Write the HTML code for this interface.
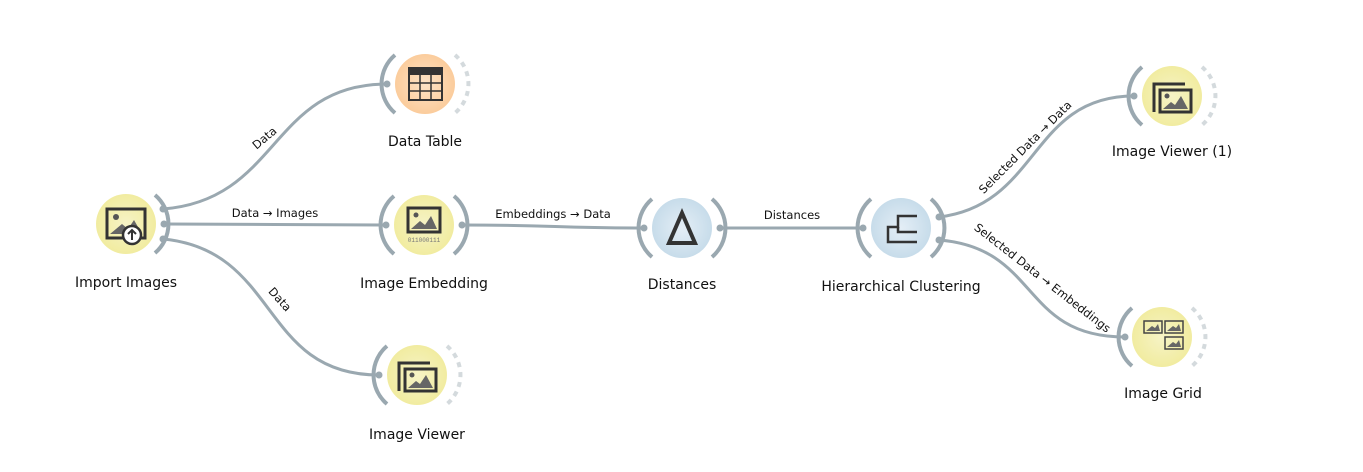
<!DOCTYPE html>
<html><head><meta charset="utf-8"><style>
html,body{margin:0;padding:0;background:#fff;width:1363px;height:472px;overflow:hidden}
svg{display:block}
.lbl{font-family:"DejaVu Sans","Liberation Sans",sans-serif;font-size:14px;fill:#111;text-anchor:middle}
.ll{font-family:"DejaVu Sans","Liberation Sans",sans-serif;font-size:11.5px;fill:#111;text-anchor:middle}
.link{fill:none;stroke:#9aa8b0;stroke-width:3}
.br{fill:none;stroke:#9aa8b0;stroke-width:4}
.dash{fill:none;stroke:#d4dadd;stroke-width:4;stroke-dasharray:5 5}
.anc{fill:#9aa8b0}
.ic{fill:none;stroke:#333;stroke-width:3}
</style></head><body>
<svg width="1363" height="472">
<defs>
<radialGradient id="gy"><stop offset="0" stop-color="#f6f3c6"/><stop offset="1" stop-color="#f1eca0"/></radialGradient>
<radialGradient id="go"><stop offset="0" stop-color="#fde3c6"/><stop offset="1" stop-color="#fbcc9c"/></radialGradient>
<radialGradient id="gb"><stop offset="0" stop-color="#e4eef6"/><stop offset="1" stop-color="#c7dcea"/></radialGradient>
</defs>
<g>
<path class="link" d="M163,209 C280,200 270,84 387,84"/>
<path class="link" d="M164,224 C280,224 270,225 386,225"/>
<path class="link" d="M163,239 C280,250 260,375 379,375"/>
<path class="link" d="M462,225 C560,225 550,228 645,228"/>
<path class="link" d="M720,228 C800,228 780,228 862,228"/>
<path class="link" d="M939,217 C1040,205 1030,96 1134,96"/>
<path class="link" d="M939,240 C1040,248 1020,337 1125,337"/>
</g>
<g>
<text class="ll" transform="translate(267,141) rotate(-40)">Data</text>
<text class="ll" x="275" y="217">Data → Images</text>
<text class="ll" transform="translate(277,302) rotate(48)">Data</text>
<text class="ll" x="553" y="218">Embeddings → Data</text>
<text class="ll" x="792" y="219">Distances</text>
<text class="ll" transform="translate(1028,150) rotate(-45)">Selected Data → Data</text>
<text class="ll" transform="translate(1040,281) rotate(38)">Selected Data → Embeddings</text>
</g>

<g>
<circle cx="126" cy="224" r="30" fill="url(#gy)"/>
<path class="br" d="M155,195 A38,38 0 0 1 155,253"/>
<circle class="anc" cx="163" cy="209" r="3.5"/><circle class="anc" cx="164" cy="224" r="3.5"/><circle class="anc" cx="163" cy="239" r="3.5"/>
<rect x="107" y="209" width="38" height="29" class="ic"/>
<circle cx="116" cy="217" r="3" fill="#555"/>
<path d="M110,234 L122,224 L128,229 L134,220 L142,234 Z" fill="#666"/>
<circle cx="132" cy="235" r="9" fill="#fff" stroke="#333" stroke-width="2.5"/>
<path d="M132,240 V230 M128,234 L132,230 L136,234" stroke="#333" stroke-width="2" fill="none"/>
<text class="lbl" x="126" y="287">Import Images</text>
</g>

<g>
<circle cx="425" cy="84" r="30" fill="url(#go)"/>
<path class="br" d="M395,55 A38,38 0 0 0 395,113"/>
<path class="dash" d="M455,55 A38,38 0 0 1 455,113"/>
<circle class="anc" cx="387" cy="84" r="3.5"/>
<rect x="409" y="68" width="33" height="32" fill="none" stroke="#333" stroke-width="2"/>
<rect x="409" y="68" width="33" height="7" fill="#333"/>
<path d="M420,75 V100 M431,75 V100 M409,83 H442 M409,91 H442" stroke="#333" stroke-width="1.5"/>
<text class="lbl" x="425" y="146">Data Table</text>
</g>

<g>
<circle cx="424" cy="225" r="30" fill="url(#gy)"/>
<path class="br" d="M394,196 A38,38 0 0 0 394,254"/>
<path class="br" d="M454,196 A38,38 0 0 1 454,254"/>
<circle class="anc" cx="386" cy="225" r="3.5"/><circle class="anc" cx="462" cy="225" r="3.5"/>
<rect x="408" y="208" width="32" height="24" class="ic"/>
<circle cx="416" cy="215" r="2.5" fill="#555"/>
<path d="M411,229 L420,221 L425,225 L431,216 L437,229 Z" fill="#666"/>
<text x="424" y="242" font-family="Liberation Mono,monospace" font-size="6" fill="#777" text-anchor="middle">011000111</text>
<text class="lbl" x="424" y="288">Image Embedding</text>
</g>

<g>
<circle cx="417" cy="375" r="30" fill="url(#gy)"/>
<path class="br" d="M387,346 A38,38 0 0 0 387,404"/>
<path class="dash" d="M447,346 A38,38 0 0 1 447,404"/>
<circle class="anc" cx="379" cy="375" r="3.5"/>
<path d="M399,391 V363 H430" class="ic"/>
<rect x="405" y="369" width="31" height="22" class="ic"/>
<circle cx="412" cy="375" r="2.5" fill="#555"/>
<path d="M408,388 L416,381 L420,384 L426,375 L433,388 Z" fill="#666"/>
<text class="lbl" x="417" y="439">Image Viewer</text>
</g>

<g>
<circle cx="682" cy="228" r="30" fill="url(#gb)"/>
<path class="br" d="M652,199 A38,38 0 0 0 652,257"/>
<path class="br" d="M712,199 A38,38 0 0 1 712,257"/>
<circle class="anc" cx="644" cy="228" r="3.5"/><circle class="anc" cx="720" cy="228" r="3.5"/>
<path d="M682,213 L669,243 H695 Z" fill="none" stroke="#333" stroke-width="4" stroke-linejoin="miter"/>
<text class="lbl" x="682" y="289">Distances</text>
</g>

<g>
<circle cx="901" cy="228" r="30" fill="url(#gb)"/>
<path class="br" d="M871,199 A38,38 0 0 0 871,257"/>
<path class="br" d="M931,199 A38,38 0 0 1 931,257"/>
<circle class="anc" cx="863" cy="228" r="3.5"/><circle class="anc" cx="939" cy="217" r="3.5"/><circle class="anc" cx="939" cy="240" r="3.5"/>
<path d="M917,242 H888 V227 H898 V216 H917" fill="none" stroke="#333" stroke-width="2.5"/>
<path d="M898,227 V232 H917" fill="none" stroke="#333" stroke-width="2.5"/>
<text class="lbl" x="901" y="291">Hierarchical Clustering</text>
</g>

<g>
<circle cx="1172" cy="96" r="30" fill="url(#gy)"/>
<path class="br" d="M1142,67 A38,38 0 0 0 1142,125"/>
<path class="dash" d="M1202,67 A38,38 0 0 1 1202,125"/>
<circle class="anc" cx="1134" cy="96" r="3.5"/>
<path d="M1154,112 V84 H1185" class="ic"/>
<rect x="1160" y="90" width="31" height="22" class="ic"/>
<circle cx="1167" cy="96" r="2.5" fill="#555"/>
<path d="M1163,109 L1171,102 L1175,105 L1181,96 L1188,109 Z" fill="#666"/>
<text class="lbl" x="1172" y="156">Image Viewer (1)</text>
</g>

<g>
<circle cx="1162" cy="337" r="30" fill="url(#gy)"/>
<path class="br" d="M1132,308 A38,38 0 0 0 1132,366"/>
<path class="dash" d="M1192,308 A38,38 0 0 1 1192,366"/>
<circle class="anc" cx="1125" cy="337" r="3.5"/>
<g fill="none" stroke="#444" stroke-width="1.5">
<rect x="1144" y="321" width="18" height="12"/><rect x="1165" y="321" width="18" height="12"/><rect x="1165" y="337" width="18" height="12"/>
</g>
<g fill="#666">
<path d="M1146,331 L1152,326 L1155,328 L1158,324 L1160,331Z"/><path d="M1167,331 L1173,326 L1176,328 L1179,324 L1181,331Z"/><path d="M1167,347 L1173,342 L1176,344 L1179,340 L1181,347Z"/>
</g>
<text class="lbl" x="1163" y="398">Image Grid</text>
</g>
</svg>
</body></html>
